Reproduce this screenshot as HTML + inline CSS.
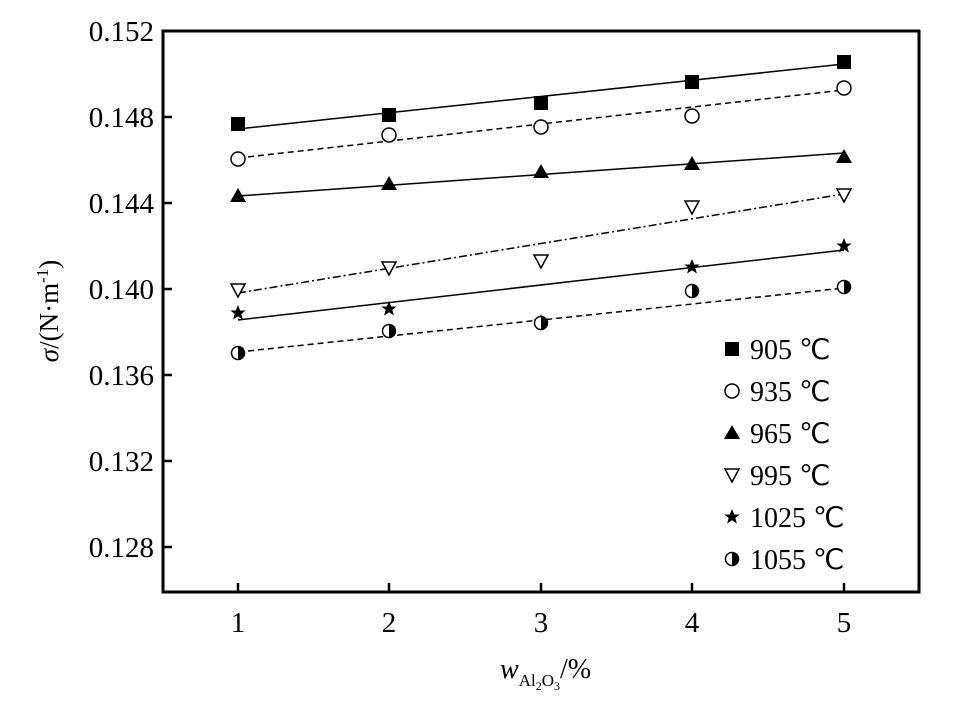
<!DOCTYPE html><html><head><style>body{margin:0;background:#fff}</style></head><body>
<svg width="965" height="722" xmlns="http://www.w3.org/2000/svg" font-family="Liberation Serif, serif">
<rect x="163" y="31" width="756" height="561" fill="none" stroke="#000" stroke-width="3"/>
<g stroke="#000" stroke-width="2.5">
<line x1="163" y1="117" x2="172" y2="117"/><line x1="163" y1="203" x2="172" y2="203"/><line x1="163" y1="289" x2="172" y2="289"/><line x1="163" y1="375" x2="172" y2="375"/><line x1="163" y1="461" x2="172" y2="461"/><line x1="163" y1="547" x2="172" y2="547"/>
<line x1="238" y1="592" x2="238" y2="583"/><line x1="389" y1="592" x2="389" y2="583"/><line x1="541" y1="592" x2="541" y2="583"/><line x1="692" y1="592" x2="692" y2="583"/><line x1="844" y1="592" x2="844" y2="583"/>
</g>
<g font-size="29" text-anchor="end">
<text x="154" y="41">0.152</text><text x="154" y="127">0.148</text><text x="154" y="213">0.144</text><text x="154" y="299">0.140</text><text x="154" y="385">0.136</text><text x="154" y="471">0.132</text><text x="154" y="557">0.128</text>
</g>
<g font-size="29" text-anchor="middle">
<text x="238" y="632">1</text><text x="389" y="632">2</text><text x="541" y="632">3</text><text x="692" y="632">4</text><text x="844" y="632">5</text>
</g>
<text font-size="27" transform="translate(58,311) rotate(-90)" text-anchor="middle"><tspan font-style="italic">σ</tspan>/(N·m<tspan font-size="17" dy="-10">-1</tspan><tspan dy="10">)</tspan></text>
<text x="500" y="678" font-size="28"><tspan font-style="italic">w</tspan><tspan font-size="17" dy="8">Al</tspan><tspan font-size="12" dy="4">2</tspan><tspan font-size="17" dy="-4">O</tspan><tspan font-size="12" dy="4">3</tspan><tspan dy="-12">/%</tspan></text>
<g stroke="#000" stroke-width="1.5" fill="none">
<line x1="238" y1="129" x2="844" y2="64"/>
<line x1="238" y1="158" x2="844" y2="90" stroke-dasharray="6,4"/>
<line x1="238" y1="196" x2="844" y2="153"/>
<line x1="238" y1="293" x2="844" y2="194" stroke-dasharray="8,3,2,3"/>
<line x1="238" y1="320" x2="844" y2="250"/>
<line x1="238" y1="352" x2="844" y2="288" stroke-dasharray="6,4"/>
</g>
<defs>
<rect id="sq" x="-7" y="-7" width="14" height="14" fill="#000"/>
<circle id="ci" r="7" fill="#fff" stroke="#000" stroke-width="1.5"/>
<path id="tu" d="M0,-8 L8,6 L-8,6Z" fill="#000"/>
<path id="td" d="M0,7 L7,-6 L-7,-6Z" fill="#fff" stroke="#000" stroke-width="1.5"/>
<path id="st" d="M0,-8 L2.2,-2.5 L7.6,-2.5 L3.3,1 L4.9,6.5 L0,3.2 L-4.9,6.5 L-3.3,1 L-7.6,-2.5 L-2.2,-2.5Z" fill="#000"/>
<g id="hc"><circle r="6.5" fill="#fff" stroke="#000" stroke-width="1.5"/><path d="M0,-6.5 A6.5,6.5 0 0 1 0,6.5Z" fill="#000"/></g>
</defs>
<use href="#sq" x="238" y="124"/><use href="#sq" x="389" y="115"/><use href="#sq" x="541" y="103"/><use href="#sq" x="692" y="82"/><use href="#sq" x="844" y="62"/>
<use href="#ci" x="238" y="159"/><use href="#ci" x="389" y="135"/><use href="#ci" x="541" y="127"/><use href="#ci" x="692" y="116"/><use href="#ci" x="844" y="88"/>
<use href="#tu" x="238" y="196"/><use href="#tu" x="389" y="184"/><use href="#tu" x="541" y="172"/><use href="#tu" x="692" y="164"/><use href="#tu" x="844" y="157"/>
<use href="#td" x="238" y="290"/><use href="#td" x="389" y="268"/><use href="#td" x="541" y="261"/><use href="#td" x="692" y="207"/><use href="#td" x="844" y="195"/>
<use href="#st" x="238" y="313"/><use href="#st" x="389" y="309"/><use href="#st" x="541" y="322"/><use href="#st" x="692" y="267"/><use href="#st" x="844" y="246"/>
<use href="#hc" x="238" y="353"/><use href="#hc" x="389" y="331"/><use href="#hc" x="541" y="323"/><use href="#hc" x="692" y="291"/><use href="#hc" x="844" y="287"/>
<use href="#sq" x="732" y="349"/><use href="#ci" x="732" y="391"/><use href="#tu" x="732" y="433"/><use href="#td" x="732" y="475"/><use href="#st" x="732" y="517"/><use href="#hc" x="732" y="559"/>
<g font-size="28">
<text x="750" y="359">905 ℃</text><text x="750" y="401">935 ℃</text><text x="750" y="443">965 ℃</text><text x="750" y="485">995 ℃</text><text x="750" y="527">1025 ℃</text><text x="750" y="569">1055 ℃</text>
</g>
</svg>
</body></html>
